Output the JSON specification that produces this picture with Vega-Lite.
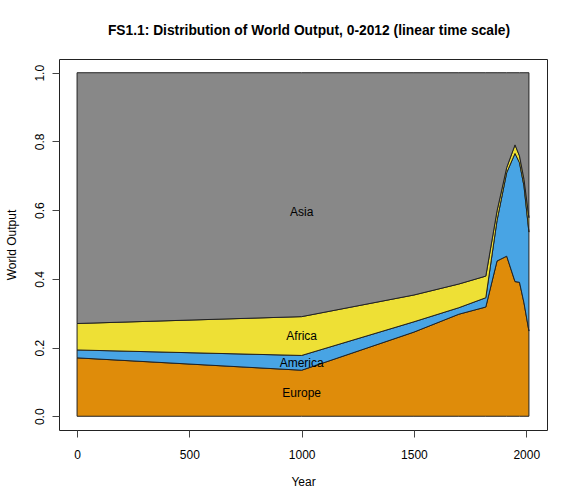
{
  "$schema": "https://vega.github.io/schema/vega-lite/v6.json",
  "autosize": "none",
  "width": 488,
  "height": 371,
  "padding": {"left": 59, "top": 59, "right": 29, "bottom": 74},
  "background": "white",
  "title": {
    "text": "FS1.1: Distribution of World Output, 0-2012 (linear time scale)",
    "font": "Liberation Sans",
    "fontSize": 13.8,
    "fontWeight": "bold",
    "color": "black",
    "anchor": "middle",
    "frame": "group",
    "offset": 21,
    "dx": 6
  },
  "config": {
    "view": {"stroke": "#222222", "strokeWidth": 1},
    "axis": {
      "labelFont": "Liberation Sans",
      "titleFont": "Liberation Sans",
      "labelFontSize": 12,
      "titleFontSize": 12,
      "titleFontWeight": "normal",
      "labelColor": "black",
      "titleColor": "black",
      "grid": false,
      "domain": false,
      "tickColor": "#444444",
      "tickSize": 7
    }
  },
  "datasets": {
    "shares": [
      {"year": 0, "region": "Europe", "rank": 1, "share": 0.170},
      {"year": 0, "region": "America", "rank": 2, "share": 0.023},
      {"year": 0, "region": "Africa", "rank": 3, "share": 0.077},
      {"year": 0, "region": "Asia", "rank": 4, "share": 0.730},
      {"year": 1000, "region": "Europe", "rank": 1, "share": 0.134},
      {"year": 1000, "region": "America", "rank": 2, "share": 0.043},
      {"year": 1000, "region": "Africa", "rank": 3, "share": 0.113},
      {"year": 1000, "region": "Asia", "rank": 4, "share": 0.710},
      {"year": 1500, "region": "Europe", "rank": 1, "share": 0.245},
      {"year": 1500, "region": "America", "rank": 2, "share": 0.030},
      {"year": 1500, "region": "Africa", "rank": 3, "share": 0.078},
      {"year": 1500, "region": "Asia", "rank": 4, "share": 0.647},
      {"year": 1700, "region": "Europe", "rank": 1, "share": 0.297},
      {"year": 1700, "region": "America", "rank": 2, "share": 0.019},
      {"year": 1700, "region": "Africa", "rank": 3, "share": 0.069},
      {"year": 1700, "region": "Asia", "rank": 4, "share": 0.615},
      {"year": 1820, "region": "Europe", "rank": 1, "share": 0.318},
      {"year": 1820, "region": "America", "rank": 2, "share": 0.027},
      {"year": 1820, "region": "Africa", "rank": 3, "share": 0.063},
      {"year": 1820, "region": "Asia", "rank": 4, "share": 0.592},
      {"year": 1870, "region": "Europe", "rank": 1, "share": 0.452},
      {"year": 1870, "region": "America", "rank": 2, "share": 0.118},
      {"year": 1870, "region": "Africa", "rank": 3, "share": 0.028},
      {"year": 1870, "region": "Asia", "rank": 4, "share": 0.402},
      {"year": 1913, "region": "Europe", "rank": 1, "share": 0.466},
      {"year": 1913, "region": "America", "rank": 2, "share": 0.243},
      {"year": 1913, "region": "Africa", "rank": 3, "share": 0.015},
      {"year": 1913, "region": "Asia", "rank": 4, "share": 0.276},
      {"year": 1950, "region": "Europe", "rank": 1, "share": 0.392},
      {"year": 1950, "region": "America", "rank": 2, "share": 0.373},
      {"year": 1950, "region": "Africa", "rank": 3, "share": 0.025},
      {"year": 1950, "region": "Asia", "rank": 4, "share": 0.210},
      {"year": 1970, "region": "Europe", "rank": 1, "share": 0.390},
      {"year": 1970, "region": "America", "rank": 2, "share": 0.348},
      {"year": 1970, "region": "Africa", "rank": 3, "share": 0.020},
      {"year": 1970, "region": "Asia", "rank": 4, "share": 0.242},
      {"year": 1990, "region": "Europe", "rank": 1, "share": 0.330},
      {"year": 1990, "region": "America", "rank": 2, "share": 0.340},
      {"year": 1990, "region": "Africa", "rank": 3, "share": 0.020},
      {"year": 1990, "region": "Asia", "rank": 4, "share": 0.310},
      {"year": 2012, "region": "Europe", "rank": 1, "share": 0.248},
      {"year": 2012, "region": "America", "rank": 2, "share": 0.288},
      {"year": 2012, "region": "Africa", "rank": 3, "share": 0.042},
      {"year": 2012, "region": "Asia", "rank": 4, "share": 0.422}
    ],
    "labels": [
      {"label": "Asia", "year": 1000, "value": 0.595},
      {"label": "Africa", "year": 1000, "value": 0.233},
      {"label": "America", "year": 1000, "value": 0.155},
      {"label": "Europe", "year": 1000, "value": 0.067}
    ]
  },
  "layer": [
    {
      "data": {"name": "shares"},
      "mark": {"type": "area", "stroke": "#222222", "strokeWidth": 1, "fillOpacity": 1, "interpolate": "linear"},
      "encoding": {
        "x": {
          "field": "year", "type": "quantitative",
          "scale": {"domain": [-80.48, 2092.48], "nice": false, "zero": false},
          "axis": {"values": [0, 500, 1000, 1500, 2000], "format": "d", "title": "Year", "labelPadding": 12, "titlePadding": 16}
        },
        "y": {
          "field": "share", "type": "quantitative", "stack": "zero",
          "scale": {"domain": [-0.04, 1.04], "nice": false, "zero": false},
          "axis": {"values": [0, 0.2, 0.4, 0.6, 0.8, 1.0], "format": ".1f", "title": "World Output",
                   "labelAngle": -90, "labelAlign": "center", "labelBaseline": "bottom", "labelPadding": 6, "titlePadding": 15}
        },
        "color": {
          "field": "region", "type": "nominal", "legend": null,
          "scale": {"domain": ["Europe", "America", "Africa", "Asia"], "range": ["#DF8C0A", "#48A4E4", "#EEE035", "#888888"]}
        },
        "order": {"field": "rank", "type": "quantitative"}
      }
    },
    {
      "data": {"name": "labels"},
      "mark": {"type": "text", "font": "Liberation Sans", "fontSize": 12, "color": "black", "align": "center", "baseline": "middle"},
      "encoding": {
        "x": {"field": "year", "type": "quantitative"},
        "y": {"field": "value", "type": "quantitative"},
        "text": {"field": "label"}
      }
    }
  ]
}
